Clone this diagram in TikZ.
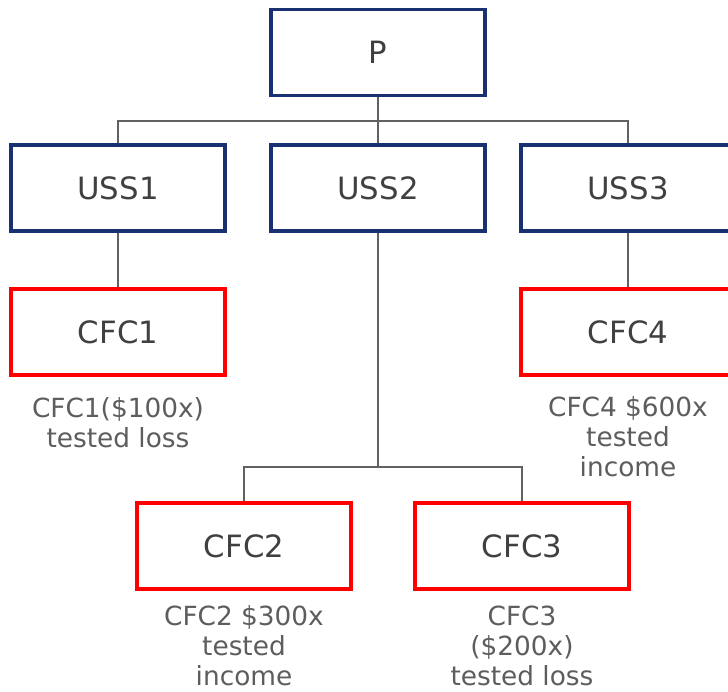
\documentclass[tikz,border=0pt]{standalone}
\usepackage{fontspec}
\setmainfont{DejaVu Sans}
\usepackage{tikz}
\usetikzlibrary{positioning}
\definecolor{mnavy}{rgb}{0.10, 0.19, 0.45}
\definecolor{mred}{rgb}{1.0, 0.0, 0.0}
\definecolor{mtext}{rgb}{0.25, 0.25, 0.25}
\definecolor{mline}{rgb}{0.38, 0.38, 0.38}

\begin{document}
\begin{tikzpicture}[x=0.02cm, y=-0.02cm,
    entity/.style={draw=mnavy, line width=1.9pt, minimum width=4.28cm, minimum height=1.72cm,
      text=mtext, font=\fontsize{17.5}{20}\selectfont},
    cfc/.style={entity, draw=mred},
    note/.style={align=center, text=mtext!85, font=\fontsize{15}{17}\selectfont},
    link/.style={draw=mline, line width=0.9pt}]
    \clip (0, 0) rectangle (728, 692);

    \node [entity] (P) at (378, 52.5) {P};
    \node [entity] (USS1) at (118, 188) {USS1};
    \node [entity] (USS2) at (378, 188) {USS2};
    \node [entity] (USS3) at (628, 188) {USS3};

    \node [cfc] (CFC1) at (118, 332) {CFC1};
    \node [cfc] (CFC4) at (628, 332) {CFC4};
    \node [cfc] (CFC2) at (244, 546) {CFC2};
    \node [cfc] (CFC3) at (522, 546) {CFC3};

    \node [note] (note1) at (118, 423) {CFC1(\$100x)\\tested loss};
    \node [note] (note4) at (628, 437) {CFC4 \$600x\\tested\\income};
    \node [note] (note2) at (244, 646) {CFC2 \$300x\\tested\\income};
    \node [note] (note3) at (522, 646) {CFC3\\(\$200x)\\tested loss};

    \coordinate (topbus) at (378, 121);
    \coordinate (lowbus) at (378, 467);

    \draw [link] (P.south) -- (topbus) -- (USS2.north);
    \draw [link] (USS1.north) -- (USS1.north |- topbus) -- (USS3.north |- topbus) -- (USS3.north);
    \draw [link] (USS1.south) -- (CFC1.north);
    \draw [link] (USS3.south) -- (CFC4.north);
    \draw [link] (USS2.south) -- (lowbus);
    \draw [link] (CFC2.north) -- (CFC2.north |- lowbus) -- (CFC3.north |- lowbus) -- (CFC3.north);
  \end{tikzpicture}
\end{document}
